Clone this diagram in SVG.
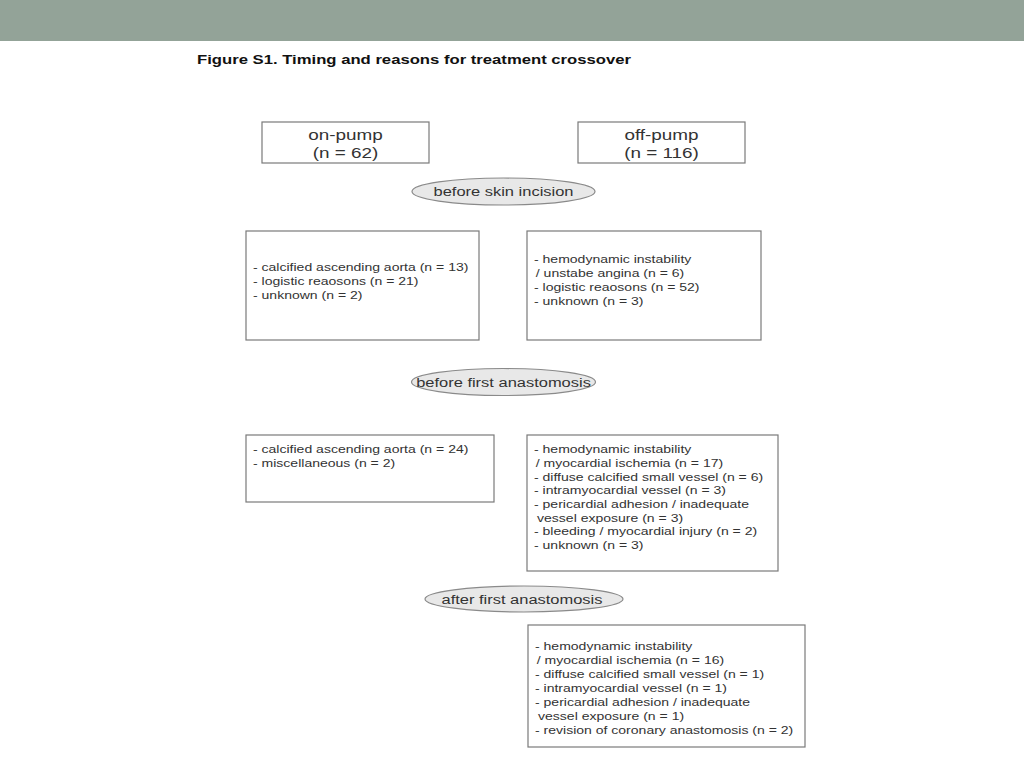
<svg xmlns="http://www.w3.org/2000/svg" width="1024" height="768" viewBox="0 0 1024 768">
<style>
.box{fill:#fff;stroke:#7a7a7a;stroke-width:1.2}
.ell{fill:#e8e8e8;stroke:#8a8a8a;stroke-width:1.2}
.t{font-family:"Liberation Sans",Arial,sans-serif;fill:#333;font-size:11.5px}
.h{font-family:"Liberation Sans",Arial,sans-serif;fill:#333;font-size:15.5px;text-anchor:middle}
.e{font-family:"Liberation Sans",Arial,sans-serif;fill:#333;font-size:13.5px;text-anchor:middle}
.title{font-family:"Liberation Sans",Arial,sans-serif;fill:#111;font-size:13.5px;font-weight:bold}
</style>
<rect x="0" y="0" width="1024" height="768" fill="#fff"/>
<rect x="0" y="0" width="1024" height="41" fill="#93a398"/>
<g transform="translate(197 0) scale(1.236 1)"><text class="title" x="0" y="64">Figure S1. Timing and reasons for treatment crossover</text></g>
<g id="connectors"></g>
<g id="on-pump">
<rect class="box" x="262" y="122" width="167" height="41"/>
<g transform="translate(345.5 0) scale(1.22 1)">
<text class="h" x="0" y="140">on-pump</text>
<text class="h" x="0" y="158">(n = 62)</text>
</g>
</g>
<g id="off-pump">
<rect class="box" x="578" y="122" width="167" height="41"/>
<g transform="translate(661.5 0) scale(1.22 1)">
<text class="h" x="0" y="140">off-pump</text>
<text class="h" x="0" y="158">(n = 116)</text>
</g>
</g>
<g id="before-skin-incision">
<ellipse class="ell" cx="503.5" cy="191.5" rx="91.5" ry="13.5"/>
<g transform="translate(503.5 0) scale(1.22 1)"><text class="e" x="0" y="196">before skin incision</text></g>
</g>
<g id="on-pump-reasons-1">
<rect class="box" x="246" y="231" width="233" height="109"/>
<g transform="translate(253 0) scale(1.22 1)">
<text class="t" x="0" y="271">- calcified ascending aorta (n = 13)</text>
<text class="t" x="0" y="285">- logistic reaosons (n = 21)</text>
<text class="t" x="0" y="299">- unknown (n = 2)</text>
</g>
</g>
<g id="off-pump-reasons-1">
<rect class="box" x="527" y="231" width="234" height="109"/>
<g transform="translate(534 0) scale(1.22 1)">
<text class="t" x="0" y="263">- hemodynamic instability</text>
<text class="t" x="1.5" y="277">/ unstabe angina (n = 6)</text>
<text class="t" x="0" y="291">- logistic reaosons (n = 52)</text>
<text class="t" x="0" y="305">- unknown (n = 3)</text>
</g>
</g>
<g id="before-first-anastomosis">
<ellipse class="ell" cx="503.5" cy="382" rx="92" ry="13.5"/>
<g transform="translate(503.5 0) scale(1.22 1)"><text class="e" x="0" y="387">before first anastomosis</text></g>
</g>
<g id="on-pump-reasons-2">
<rect class="box" x="246" y="435" width="248" height="67"/>
<g transform="translate(253 0) scale(1.22 1)">
<text class="t" x="0" y="453">- calcified ascending aorta (n = 24)</text>
<text class="t" x="0" y="467">- miscellaneous (n = 2)</text>
</g>
</g>
<g id="off-pump-reasons-2">
<rect class="box" x="527" y="435" width="251" height="136"/>
<g transform="translate(534 0) scale(1.22 1)">
<text class="t" x="0" y="453">- hemodynamic instability</text>
<text class="t" x="1.5" y="467">/ myocardial ischemia (n = 17)</text>
<text class="t" x="0" y="481">- diffuse calcified small vessel (n = 6)</text>
<text class="t" x="0" y="494">- intramyocardial vessel (n = 3)</text>
<text class="t" x="0" y="508">- pericardial adhesion / inadequate</text>
<text class="t" x="2.5" y="522">vessel exposure (n = 3)</text>
<text class="t" x="0" y="535">- bleeding / myocardial injury (n = 2)</text>
<text class="t" x="0" y="549">- unknown (n = 3)</text>
</g>
</g>
<g id="after-first-anastomosis">
<ellipse class="ell" cx="524" cy="599" rx="99" ry="13"/>
<g transform="translate(522 0) scale(1.22 1)"><text class="e" x="0" y="604">after first anastomosis</text></g>
</g>
<g id="off-pump-reasons-3">
<rect class="box" x="528" y="625" width="277" height="122"/>
<g transform="translate(535 0) scale(1.22 1)">
<text class="t" x="0" y="650">- hemodynamic instability</text>
<text class="t" x="1.5" y="664">/ myocardial ischemia (n = 16)</text>
<text class="t" x="0" y="678">- diffuse calcified small vessel (n = 1)</text>
<text class="t" x="0" y="692">- intramyocardial vessel (n = 1)</text>
<text class="t" x="0" y="706">- pericardial adhesion / inadequate</text>
<text class="t" x="2.5" y="720">vessel exposure (n = 1)</text>
<text class="t" x="0" y="734">- revision of coronary anastomosis (n = 2)</text>
</g>
</g>
</svg>
